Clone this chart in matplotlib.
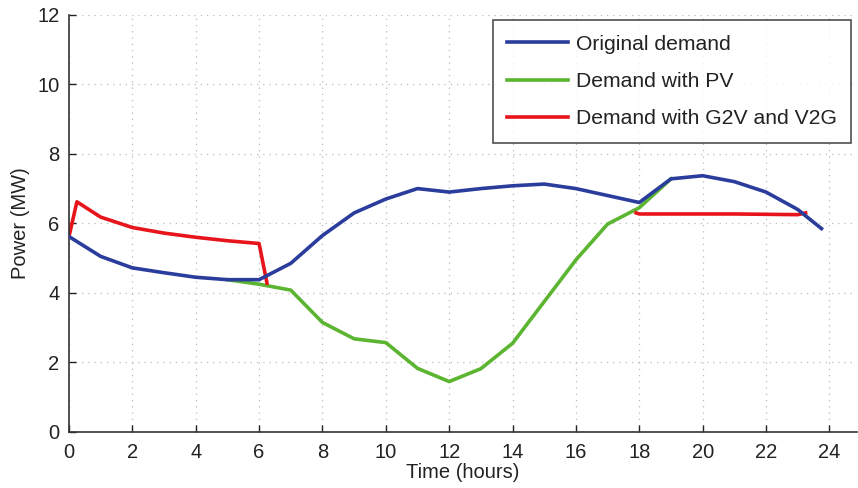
import numpy as np
import matplotlib
matplotlib.use("Agg")
import matplotlib.pyplot as plt

plt.rcParams['font.family'] = ['Liberation Sans', 'DejaVu Sans']

# datos
hours = [0, 1, 2, 3, 4, 5, 6, 7, 8, 9, 10, 11, 12, 13, 14, 15, 16, 17, 18, 19, 20, 21, 22, 23, 23.75]
original = [5.62, 5.05, 4.72, 4.58, 4.45, 4.38, 4.38, 4.85, 5.65, 6.3, 6.7, 7.0, 6.9, 7.0, 7.08,
            7.13, 7.0, 6.8, 6.6, 7.28, 7.37, 7.2, 6.9, 6.4, 5.85]

pv_hours = [5, 6, 7, 8, 9, 10, 11, 12, 13, 14, 15, 16, 17, 18, 19]
pv = [4.38, 4.25, 4.08, 3.15, 2.68, 2.57, 1.83, 1.45, 1.82, 2.55, 3.75, 4.95, 5.98, 6.45, 7.28]

v2g_hours = [0, 0.25, 1, 2, 3, 4, 5, 6, 6.25, np.nan, 17.9, 18, 19, 20, 21, 22, 23, 23.25]
v2g = [5.62, 6.62, 6.18, 5.88, 5.72, 5.6, 5.5, 5.42, 4.28, np.nan, 6.3, 6.27, 6.27, 6.27, 6.27,
       6.26, 6.25, 6.3]

fig = plt.figure(figsize=(8.58, 4.88), dpi=100)
ax = fig.add_axes([0.0804, 0.1148, 0.918, 0.855])

ax.plot(hours, original, color='#2b3d9c', lw=2.6, label='Original demand', zorder=3)
ax.plot(pv_hours, pv, color='#5cb531', lw=2.6, label='Demand with PV', zorder=2)
ax.plot(v2g_hours, v2g, color='#e8141c', lw=2.6, label='Demand with G2V and V2G', zorder=2)

ax.set_xlim(0, 24.86)
ax.set_ylim(0, 12)
ax.set_xticks(range(0, 25, 2))
ax.set_yticks(range(0, 13, 2))
ax.tick_params(direction='in', length=5, width=1, labelsize=14.5, colors='#222222')
ax.tick_params(axis='x', pad=8)
ax.tick_params(axis='y', pad=7)
ax.grid(True, linestyle=(0, (1, 4)), color='#bbbbbb', lw=0.9)
ax.spines['top'].set_visible(False)
ax.spines['right'].set_visible(False)
for s in ['left', 'bottom']:
    ax.spines[s].set_color('#333333')
    ax.spines[s].set_linewidth(1.2)

ax.set_xlabel('Time (hours)', fontsize=14.5, color='#222222', labelpad=1)
ax.set_ylabel('Power (MW)', fontsize=14.5, color='#222222', labelpad=5)

leg = ax.legend(loc='upper right', fontsize=15.2, frameon=True, fancybox=False,
                edgecolor='#222222', borderaxespad=0.25, borderpad=0.7,
                handlelength=2.85, handletextpad=0.38, labelspacing=0.86)
leg.get_frame().set_linewidth(1.2)
for t in leg.get_texts():
    t.set_color('#222222')

fig.savefig('out.png', dpi=100)
